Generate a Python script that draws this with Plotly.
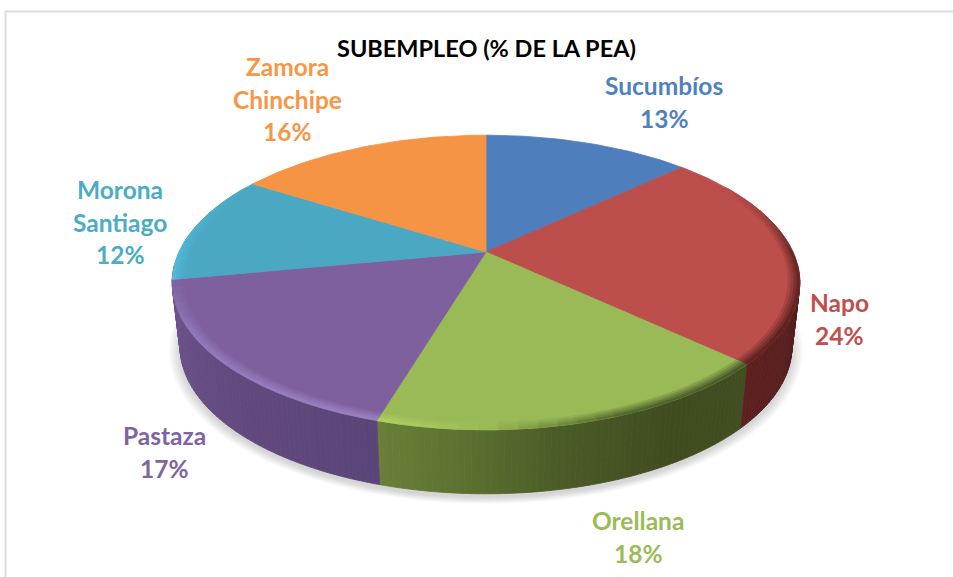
import math
import plotly.graph_objects as go

# ---- data -----------------------------------------------------------
regions = ["Sucumbíos", "Napo", "Orellana", "Pastaza", "Morona Santiago", "Zamora Chinchipe"]
shares = [13, 24, 17.6, 17.4, 12, 16]
title_text = "SUBEMPLEO (% DE LA PEA)"

# ---- styles ---------------------------------------------------------
face_colors = ["#4E7FBC", "#BC4F4C", "#9ABA58", "#7F609F", "#4AA8C3", "#F49444"]
label_colors = ["#4F81BD", "#C0504D", "#9BBB59", "#8064A2", "#4BACC6", "#F79646"]
# wall colour stops (angle in degrees clockwise from the top, colour)
wall_stops = [
    (60, "#3A1616"), (120, "#5A1F1F"), (133.2, "#5E2020"),
    (133.21, "#404E22"), (150, "#3F4C20"), (168, "#4A5A26"), (183, "#5C7030"), (196.5, "#6A8038"),
    (196.51, "#5A4578"), (225, "#62497F"), (250, "#6A5088"), (300, "#7A5E9A"),
]
edge_stops = [  # rim highlight / shade colour
    (60, "#7A3230"), (120, "#5E2220"), (133.2, "#612422"),
    (133.21, "#4A5A28"), (160, "#556B2E"), (180, "#9ABA58"), (196.5, "#B0D060"),
    (196.51, "#9A80C0"), (240, "#9078B8"), (259.1, "#7E62A2"),
    (259.2, "#55B8D8"), (300, "#50B0CC"),
]
label_blocks = [
    (["Sucumbíos", "13%"], 664, 102),
    (["Napo", "24%"], 839, 319),
    (["Orellana", "18%"], 638, 537),
    (["Pastaza", "17%"], 164, 452),
    (["Morona", "Santiago", "12%"], 120, 222),
    (["Zamora", "Chinchipe", "16%"], 287, 99),
]
W, H = 953, 577
CX, CY, A, B, K = 486.0, 252.0, 307.0, 141.0, 0.207
DEPTH, SHRINK = 64.0, 0.975
BEVEL = 0.035


def project(theta, r=1.0, lower=False):
    u, v = r * math.sin(theta), r * math.cos(theta)
    w = 1 + K * v
    x, y = A * u / w, -B * v / w
    if lower:
        return CX + SHRINK * x, CY + DEPTH + y
    return CX + x, CY + y


def rgb(c):
    return tuple(int(c[i:i + 2], 16) for i in (1, 3, 5))


def mix(c1, c2, t):
    a, b = rgb(c1), rgb(c2)
    return "#%02X%02X%02X" % tuple(round(a[i] + (b[i] - a[i]) * t) for i in range(3))


def stop_color(stops, deg):
    if deg <= stops[0][0]:
        return stops[0][1]
    for (d0, c0), (d1, c1) in zip(stops, stops[1:]):
        if deg <= d1:
            return mix(c0, c1, (deg - d0) / (d1 - d0))
    return stops[-1][1]


def poly(fig, pts, color, line=True):
    fig.add_trace(go.Scatter(
        x=[p[0] for p in pts] + [pts[0][0]], y=[p[1] for p in pts] + [pts[0][1]],
        mode="lines", fill="toself", fillcolor=color,
        line=dict(color=color, width=0.8) if line else dict(width=0),
        hoverinfo="skip", showlegend=False))


fig = go.Figure()

# cumulative slice limits, all derived from the shares
total = sum(shares)
limits = [0.0]
for s in shares:
    limits.append(limits[-1] + s / total * 360)


def wedge_of(deg):
    for i in range(len(shares)):
        if limits[i] <= deg <= limits[i + 1]:
            return i
    return len(shares) - 1


# soft shadow under the pie
for i in range(9):
    grow = 1 + (8 - i) * 0.0045
    pts = []
    for d in range(0, 360, 3):
        x, y = project(math.radians(d), 1.0, lower=True)
        pts.append((CX + (x - CX) * grow, CY + DEPTH + 3 + (y - CY - DEPTH) * (grow + 0.004)))
    poly(fig, pts, "rgba(120,120,120,0.035)", line=False)

# side wall
STEP = 1.0
WALL_FROM, WALL_TO = 95.0, 265.0
d = WALL_FROM
breaks = sorted(limits)
while d < WALL_TO:
    nxt = min(d + STEP, WALL_TO)
    for b in breaks:
        if d < b < nxt:
            nxt = b
    mid = (d + nxt) / 2
    t0, t1 = math.radians(d), math.radians(nxt)
    poly(fig, [project(t0), project(t1), project(t1, lower=True), project(t0, lower=True)],
         stop_color(wall_stops, mid))
    d = nxt

# top faces
for i in range(len(shares)):
    pts = [(CX, CY)]
    n = max(2, int(limits[i + 1] - limits[i]))
    for j in range(n + 1):
        pts.append(project(math.radians(limits[i] + (limits[i + 1] - limits[i]) * j / n)))
    poly(fig, pts, face_colors[i])

# rim bevel on the front of the pie
BANDS = 4
d = 60.0
while d < 300:
    nxt = min(d + 3.0, 300.0)
    for b in breaks:
        if d < b < nxt:
            nxt = b
    mid = (d + nxt) / 2
    t0, t1 = math.radians(d), math.radians(nxt)
    face = face_colors[wedge_of(mid)]
    edge = stop_color(edge_stops, mid)
    fade = min(1.0, (mid - 60) / 30, (300 - mid) / 30)
    for k in range(BANDS):
        r0 = 1 - BEVEL * (1 - k / BANDS)
        r1 = 1 - BEVEL * (1 - (k + 1) / BANDS)
        col = mix(face, edge, fade * (k + 1) / BANDS)
        poly(fig, [project(t0, r0), project(t1, r0), project(t1, r1), project(t0, r1)], col)
    d = nxt

# title and labels
fig.add_annotation(x=486, y=48, text=title_text, showarrow=False, xref="x", yref="y",
                   font=dict(family="Lato", size=23.5, color="#000000", weight="bold"))
LINE = 32.5
for (lines, cx, cy), col in zip(label_blocks, label_colors):
    for n, txt in enumerate(lines):
        fig.add_annotation(x=cx, y=cy + (n - (len(lines) - 1) / 2) * LINE, text=txt, showarrow=False,
                           xref="x", yref="y",
                           font=dict(family="Lato", size=24.5, color=col, weight="bold"))

fig.update_layout(
    width=W, height=H, margin=dict(l=0, r=0, t=0, b=0), autosize=False,
    paper_bgcolor="white", plot_bgcolor="white", showlegend=False,
    xaxis=dict(range=[0, W], visible=False, fixedrange=True),
    yaxis=dict(range=[H, 0], visible=False, fixedrange=True),
    shapes=[dict(type="rect", x0=5.5, y0=11.5, x1=W + 10, y1=H + 10, xref="x", yref="y",
                 line=dict(color="#DCDCDC", width=2), layer="below")],
)
fig.write_html("out.html", config={"displayModeBar": False},
               post_script="document.body.style.margin='0';document.body.style.overflow='hidden';")
